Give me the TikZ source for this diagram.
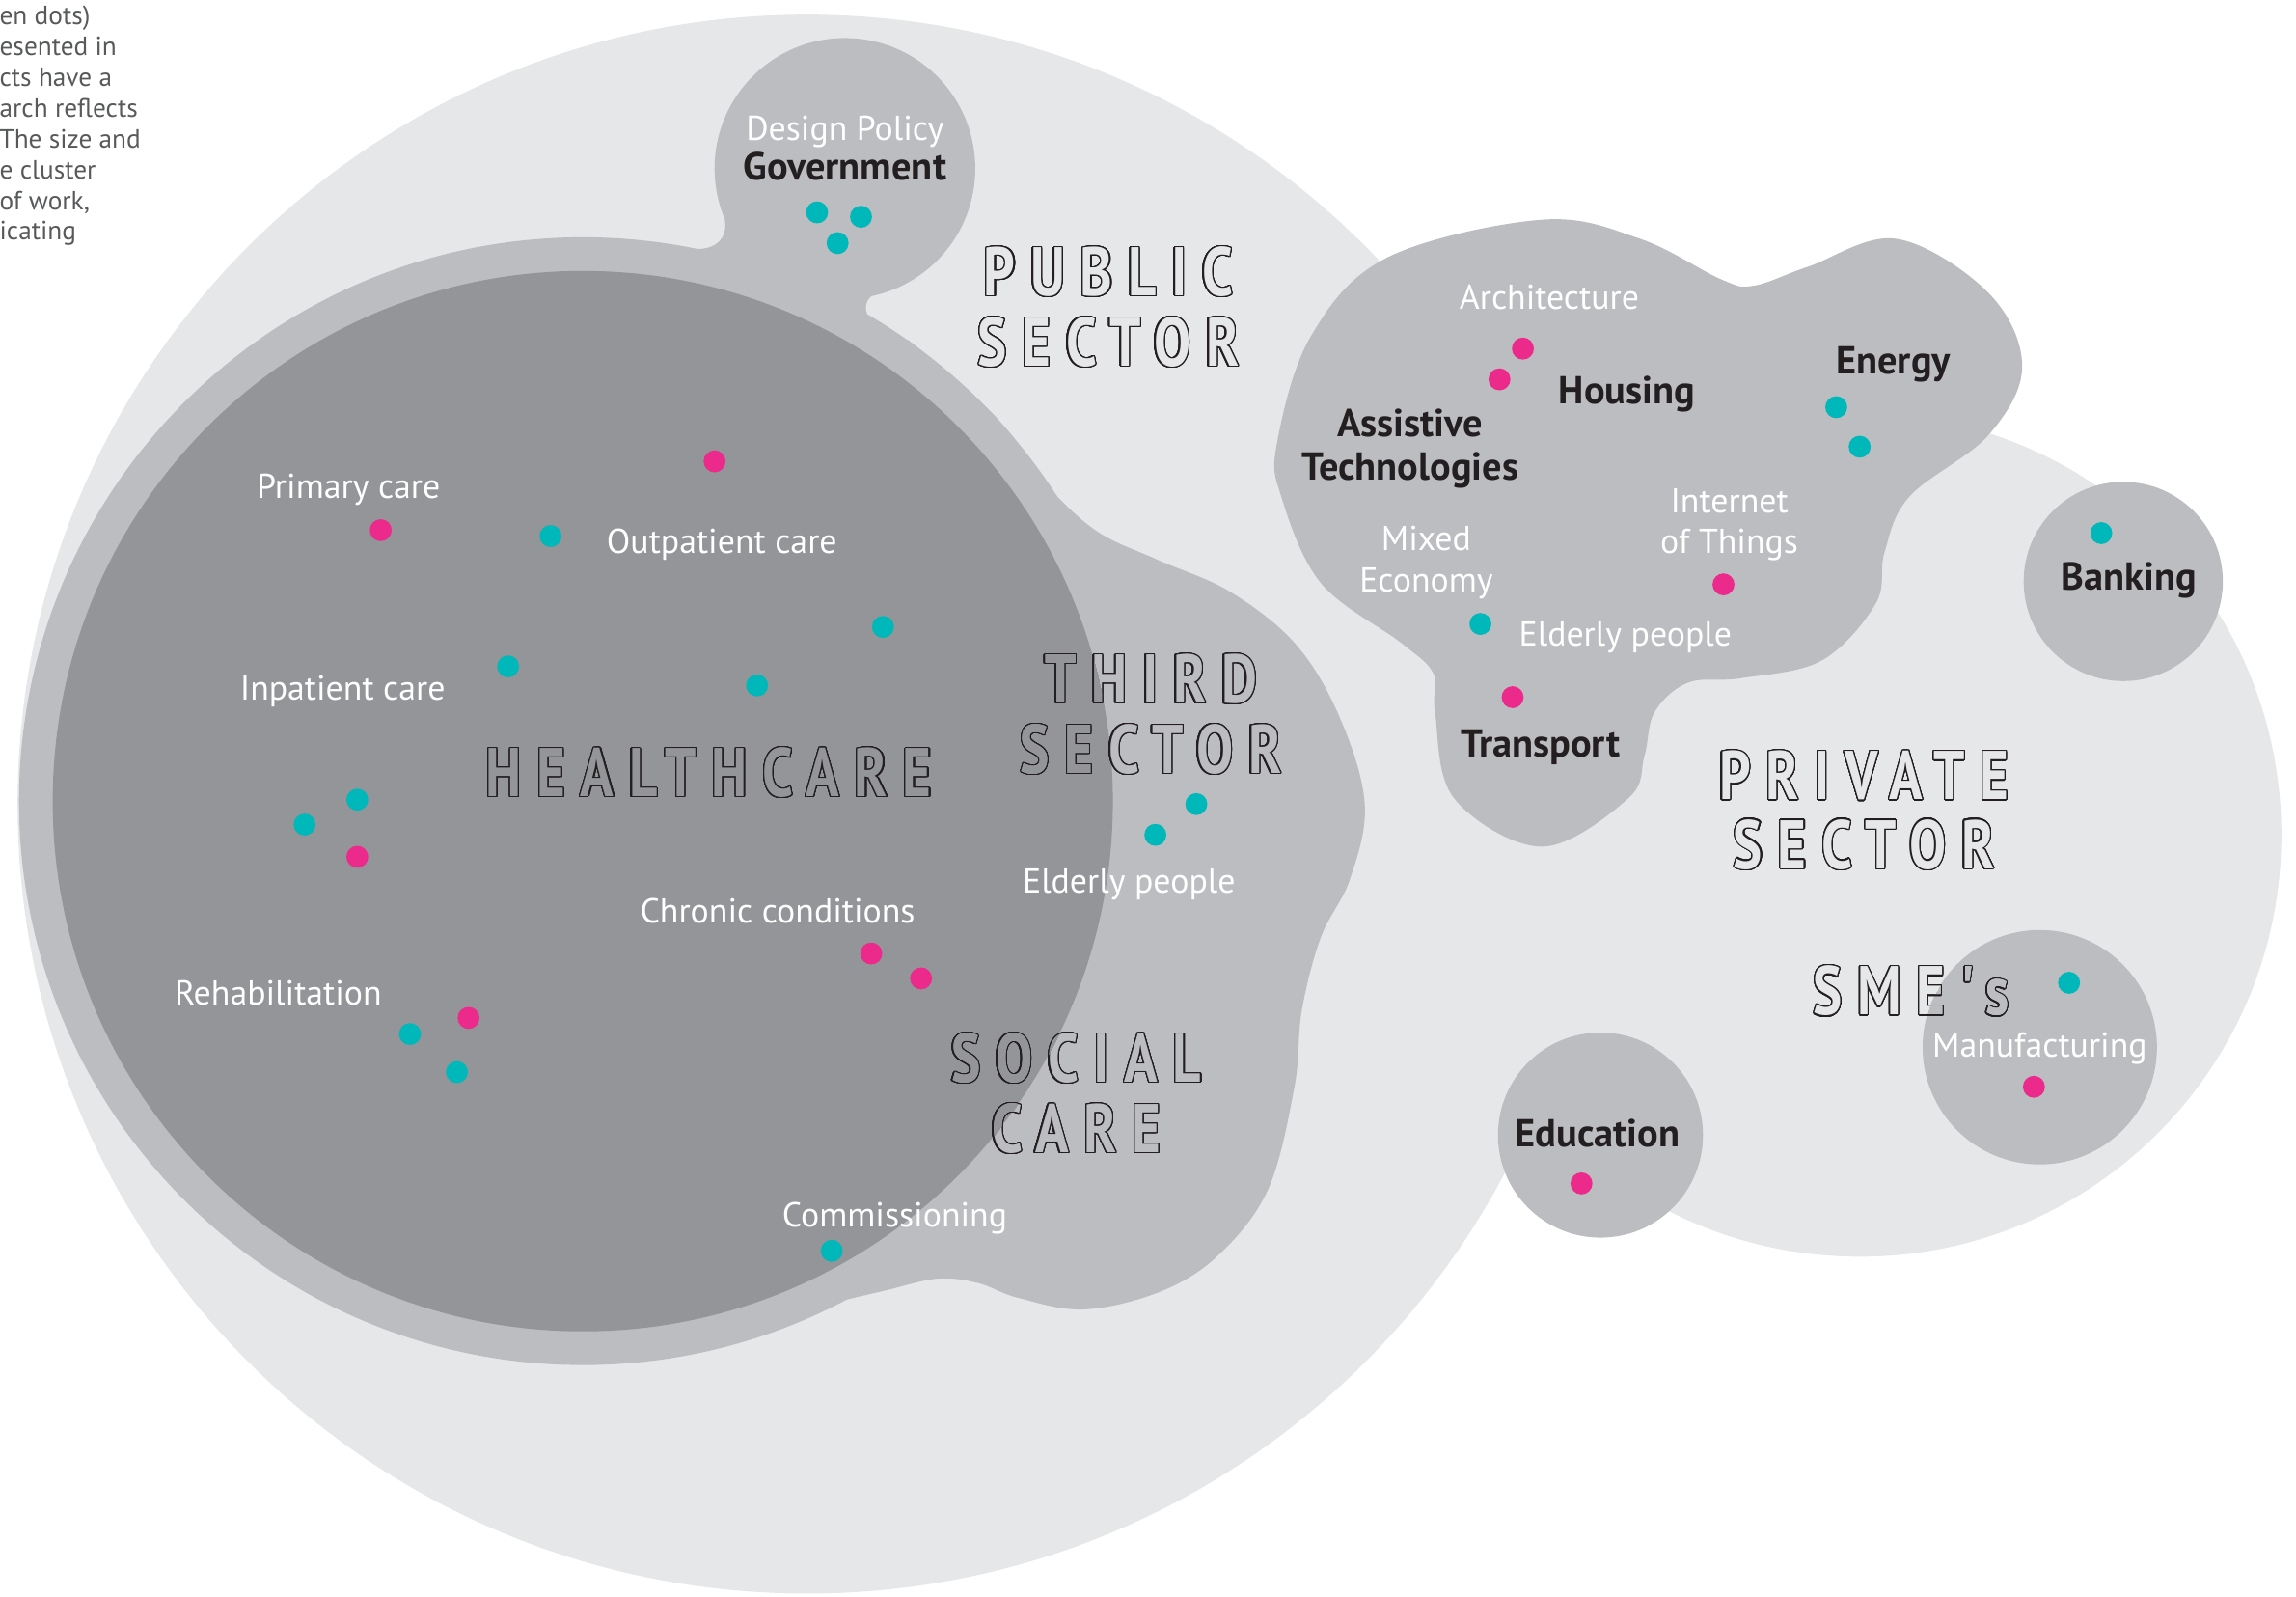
\documentclass[tikz,border=0pt]{standalone}
\usepackage{fontspec}
\setmainfont{PT Sans}
\newfontfamily\hollowfont[LetterSpace=22,FakeStretch=0.8,Ligatures=TeXOff,UprightFont=* Bold]{PT Sans}
\usepackage{contour}
\contourlength{0.42pt}
\contournumber{32}

\definecolor{lightgrey}{HTML}{E6E7E8}
\definecolor{midgrey}{HTML}{BCBDC0}
\definecolor{darkgrey}{HTML}{939598}
\definecolor{dotcyan}{HTML}{00B8BA}
\definecolor{dotpink}{HTML}{EC2A8C}
\definecolor{ink}{HTML}{231F20}
\definecolor{notegrey}{HTML}{58595B}

\tikzset{every picture/.style={line width=0.75pt}}
\tikzset{
  cyandot/.style={circle, fill=dotcyan, inner sep=0pt, minimum size=7.5pt},
  pinkdot/.style={circle, fill=dotpink, inner sep=0pt, minimum size=7.5pt},
  arealabel/.style={text=white, font=\fontsize{11.8}{14}\selectfont, anchor=base, inner sep=0.75pt},
  fieldlabel/.style={text=ink, font=\bfseries\fontsize{13.3}{15}\selectfont, anchor=base, inner sep=0.75pt},
  sectorlabel/.style={font=\hollowfont\fontsize{23.5}{28}\selectfont, anchor=base, inner sep=0pt},
  notetext/.style={text=notegrey, font=\fontsize{9}{10.5}\selectfont, anchor=base west, inner sep=0pt}
}

\begin{document}
\begin{tikzpicture}[x=0.5pt,y=-0.5pt]
    \useasboundingbox (0,0) rectangle (1568,1090);
    \clip (0,0) rectangle (1568,1090);

    %Shape: Circle [public sector]
    \fill [lightgrey] (551,549) circle [radius=539];
    %Shape: Circle [private sector]
    \fill [lightgrey] (1270,570) circle [radius=288];

    %Shape: Circle [healthcare outer]
    \fill [midgrey] (398,547) circle [radius=385];
    %Shape: Circle [government]
    \fill [midgrey] (577,115) circle [radius=89];
    %Shape: Neck [government]
    \fill [midgrey] (495,150) .. controls (497,163) and (489,170) .. (476,170) -- (530,200) -- (530,160) -- cycle;
    \fill [midgrey] (560,195) -- (600,199) .. controls (592,203) and (590,208) .. (592,214) .. controls (594,219) and (600,222) .. (606,223) -- (560,215) -- cycle;
    %Shape: Blob [third sector and social care]
    \fill [midgrey] plot [smooth, tension=0.6] coordinates {(620,232) (660,265) (690,296) (712,328) (748,362) (790,382) (840,404) (885,440) (915,490) (932,549) (922,600) (902,640) (889,690) (884,742) (866,812) (832,857) (792,882) (740,894) (695,886) (668,876) (640,873) (605,881) (575,888)} -- (500,600) -- cycle;
    %Shape: Blob [private cluster]
    \fill [midgrey] plot [smooth cycle, tension=0.6] coordinates {(872,303) (875,339) (902,398) (957,439) (979,460) (980,486) (993,545) (1053,578) (1112,545) (1123,516) (1130,486) (1153,466) (1189,463) (1244,451) (1281,412) (1287,377) (1304,339) (1358,297) (1381,250) (1358,200) (1295,163) (1235,182) (1198,195) (1176,191) (1120,163) (1053,150) (947,176) (895,230)};
    %Shape: Circle [banking]
    \fill [midgrey] (1450,397) circle [radius=68];
    %Shape: Circle [education]
    \fill [midgrey] (1093,775) circle [radius=70];
    %Shape: Circle [manufacturing]
    \fill [midgrey] (1393,715) circle [radius=80];

    %Shape: Circle [healthcare inner]
    \fill [darkgrey] (398,547) circle [radius=362];

    % Dots
    \node [cyandot] (gov1) at (558,145) {};
    \node [cyandot] (gov2) at (588,148) {};
    \node [cyandot] (gov3) at (572,166) {};
    \node [pinkdot] (hc1) at (488,315) {};
    \node [pinkdot] (hc2) at (260,362) {};
    \node [cyandot] (hc3) at (376,366) {};
    \node [cyandot] (hc4) at (603,428) {};
    \node [cyandot] (hc5) at (347,455) {};
    \node [cyandot] (hc6) at (517,468) {};
    \node [cyandot] (hc7) at (244,546) {};
    \node [cyandot] (hc8) at (208,563) {};
    \node [pinkdot] (hc9) at (244,585) {};
    \node [pinkdot] (hc10) at (595,651) {};
    \node [pinkdot] (hc11) at (629,668) {};
    \node [pinkdot] (hc12) at (320,695) {};
    \node [cyandot] (hc13) at (280,706) {};
    \node [cyandot] (hc14) at (312,732) {};
    \node [cyandot] (hc15) at (568,854) {};
    \node [cyandot] (ts1) at (817,549) {};
    \node [cyandot] (ts2) at (789,570) {};
    \node [pinkdot] (pv1) at (1040,238) {};
    \node [pinkdot] (pv2) at (1024,259) {};
    \node [cyandot] (pv3) at (1254,278) {};
    \node [cyandot] (pv4) at (1270,305) {};
    \node [pinkdot] (pv5) at (1177,399) {};
    \node [cyandot] (pv6) at (1011,426) {};
    \node [pinkdot] (pv7) at (1033,476) {};
    \node [cyandot] (bank1) at (1435,364) {};
    \node [cyandot] (sme1) at (1413,671) {};
    \node [pinkdot] (sme2) at (1389,742) {};
    \node [pinkdot] (edu1) at (1080,808) {};

    % Text Node
    \node [arealabel] (policy) at (577,96) {Design Policy};
    \node [fieldlabel] (gov) at (577,123) {Government};
    \node [arealabel] (primary) at (238,340) {Primary care};
    \node [arealabel] (outpatient) at (493,378) {Outpatient care};
    \node [arealabel] (inpatient) at (234,478) {Inpatient care};
    \node [arealabel] (chronic) at (531,630) {Chronic conditions};
    \node [arealabel] (rehab) at (190,686) {Rehabilitation};
    \node [arealabel] (commission) at (611,838) {Commissioning};
    \node [arealabel] (elderly1) at (771,610) {Elderly people};
    \node [arealabel] (architecture) at (1058,211) {Architecture};
    \node [arealabel] (internet) at (1181,350) {Internet};
    \node [arealabel] (things) at (1181,378) {of Things};
    \node [arealabel] (mixed) at (974,376) {Mixed};
    \node [arealabel] (economy) at (974,404) {Economy};
    \node [arealabel] (elderly2) at (1110,441) {Elderly people};
    \node [arealabel] (manufacturing) at (1393,722) {Manufacturing};
    \node [fieldlabel] (housing) at (1111,276) {Housing};
    \node [fieldlabel] (energy) at (1293,255) {Energy};
    \node [fieldlabel] (assistive) at (963,298) {Assistive};
    \node [fieldlabel] (technologies) at (963,328) {Technologies};
    \node [fieldlabel] (transport) at (1052,517) {Transport};
    \node [fieldlabel] (banking) at (1454,403) {Banking};
    \node [fieldlabel] (education) at (1091,783) {Education};

    % Text Node [sectors]
    \node [sectorlabel, text=lightgrey] (public) at (757,202) {\contour{ink}{PUBLIC}};
    \node [sectorlabel, text=lightgrey] (publicb) at (757,250) {\contour{ink}{SECTOR}};
    \node [sectorlabel, text=darkgrey] (health) at (484,544) {\contour{ink}{HEALTHCARE}};
    \node [sectorlabel, text=midgrey] (third) at (786,480) {\contour{ink}{THIRD}};
    \node [sectorlabel, text=midgrey] (thirdb) at (786,528) {\contour{ink}{SECTOR}};
    \node [sectorlabel, text=midgrey] (social) at (735,739) {\contour{ink}{SOCIAL}};
    \node [sectorlabel, text=midgrey] (socialb) at (735,787) {\contour{ink}{CARE}};
    \node [sectorlabel, text=lightgrey] (private) at (1273,546) {\contour{ink}{PRIVATE}};
    \node [sectorlabel, text=lightgrey] (privateb) at (1273,593) {\contour{ink}{SECTOR}};
    \node [sectorlabel, text=lightgrey] (sme) at (1305,693) {\contour{ink}{SME's}};
    \begin{scope}
      \clip (398,547) circle [radius=362];
      \node [sectorlabel, text=darkgrey] at (786,480) {THIRD};
      \node [sectorlabel, text=darkgrey] at (786,528) {SECTOR};
      \node [sectorlabel, text=darkgrey] at (735,739) {SOCIAL};
      \node [sectorlabel, text=darkgrey] at (735,787) {CARE};
    \end{scope}
    \begin{scope}
      \clip (1393,715) circle [radius=80];
      \node [sectorlabel, text=midgrey] at (1305,693) {SME's};
    \end{scope}

    % Text Node [cut note]
    \foreach \t [count=\i] in {{en dots)},{esented in},{cts have a},{arch reflects},{The size and},{e cluster},{of work,},{icating}}
      \node [notetext] (note\i) at (-1,{17+21*(\i-1)}) {\t};

\end{tikzpicture}
\end{document}
